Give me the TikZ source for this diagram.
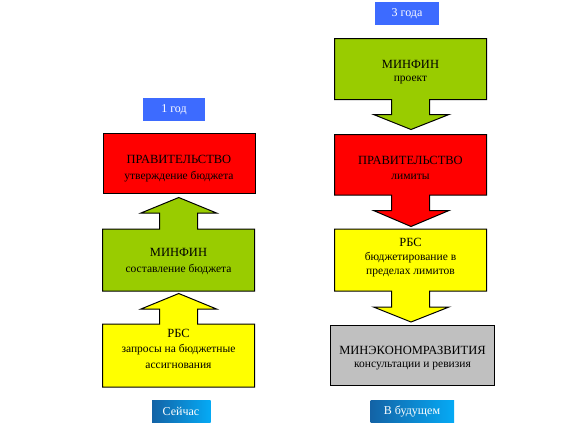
\documentclass[tikz,border=0pt]{standalone}
\usepackage{fontspec}
\setmainfont{Liberation Serif}
\definecolor{cred}{HTML}{FF0000}
\definecolor{cgreen}{HTML}{99CC00}
\definecolor{cyellow}{HTML}{FFFF00}
\definecolor{cgray}{HTML}{C0C0C0}
\definecolor{clabel}{HTML}{3D6BFF}
\definecolor{cdark}{HTML}{1363A6}
\definecolor{clight}{HTML}{05AAF5}
\tikzset{
  shapebox/.style={draw=black, line width=1pt, line join=miter},
  ttl/.style={font=\fontsize{12.5}{14}\selectfont, inner sep=0pt},
  sub/.style={font=\fontsize{11.5}{13}\selectfont, inner sep=0pt},
  lbl/.style={font=\fontsize{12}{14}\selectfont, text=white, inner sep=0pt},
}
\begin{document}
\begin{tikzpicture}[x=1pt,y=-1pt]
\useasboundingbox (0,0) rectangle (581,426);
\fill[white] (0,0) rectangle (581,426);
% ---- left column ----
\fill[clabel] (143,98) rectangle (205,121);
\node[lbl] (l1) at (174,109.5) {1 год};
\draw[shapebox, fill=cred] (103,133.5) rectangle (255,193.5);
\node[ttl] (lrt) at (179,159) {ПРАВИТЕЛЬСТВО};
\node[sub] (lrs) at (179,177) {утверждение бюджета};
\draw[shapebox, fill=cgreen] (102.5,291) -- (102.5,229) -- (159.5,229) -- (159.5,213) -- (141,213) -- (178.75,197.5) -- (216.5,213) -- (197.5,213) -- (197.5,229) -- (254.5,229) -- (254.5,291) -- cycle;
\node[ttl] (lgt) at (178.5,252.5) {МИНФИН};
\node[sub] (lgs) at (178.5,269) {составление бюджета};
\draw[shapebox, fill=cyellow] (102.5,387) -- (102.5,324) -- (159.5,324) -- (159.5,309) -- (141,309) -- (178.75,293.5) -- (216.5,309) -- (197.5,309) -- (197.5,324) -- (254.5,324) -- (254.5,387) -- cycle;
\node[ttl] (lyt) at (178.5,333.5) {РБС};
\node[sub] (lys1) at (178.5,350) {запросы на бюджетные};
\node[sub] (lys2) at (178.5,366) {ассигнования};
\shade[left color=cdark, right color=clight] (152,400) rectangle (210.5,422.5);
\node[lbl] (now) at (181,411.5) {Сейчас};
% ---- right column ----
\fill[clabel] (375,2) rectangle (439,24.5);
\node[lbl] (l3) at (407,13.5) {3 года};
\draw[shapebox, fill=cgreen] (334.5,38.5) -- (486.5,38.5) -- (486.5,99.5) -- (429.5,99.5) -- (429.5,114.5) -- (449,114.5) -- (411,129.5) -- (373.5,114.5) -- (391.5,114.5) -- (391.5,99.5) -- (334.5,99.5) -- cycle;
\node[ttl] (rgt) at (410.5,64.5) {МИНФИН};
\node[sub] (rgs) at (410.5,80.5) {проект};
\draw[shapebox, fill=cred] (334.5,134.5) -- (486.5,134.5) -- (486.5,195) -- (429.5,195) -- (429.5,210.5) -- (449,210.5) -- (411,226.5) -- (373.5,210.5) -- (391.5,210.5) -- (391.5,195) -- (334.5,195) -- cycle;
\node[ttl] (rrt) at (410.5,160) {ПРАВИТЕЛЬСТВО};
\node[sub] (rrs) at (410.5,176.5) {лимиты};
\draw[shapebox, fill=cyellow] (334.5,229) -- (486.5,229) -- (486.5,291) -- (429.5,291) -- (429.5,307) -- (449,307) -- (411,322) -- (373.5,307) -- (391.5,307) -- (391.5,291) -- (334.5,291) -- cycle;
\node[ttl] (ryt) at (410.5,242) {РБС};
\node[sub] (rys1) at (410.5,258) {бюджетирование в};
\node[sub] (rys2) at (410.5,273.5) {пределах лимитов};
\draw[shapebox, fill=cgray] (330.5,325.5) rectangle (494.5,385);
\node[ttl] (rct) at (412.5,350.5) {МИНЭКОНОМРАЗВИТИЯ};
\node[sub] (rcs) at (412.5,366) {консультации и ревизия};
\shade[left color=cdark, right color=clight] (370.5,400) rectangle (454,422.5);
\node[lbl] (fut) at (412,411.5) {В будущем};
\end{tikzpicture}
\end{document}
